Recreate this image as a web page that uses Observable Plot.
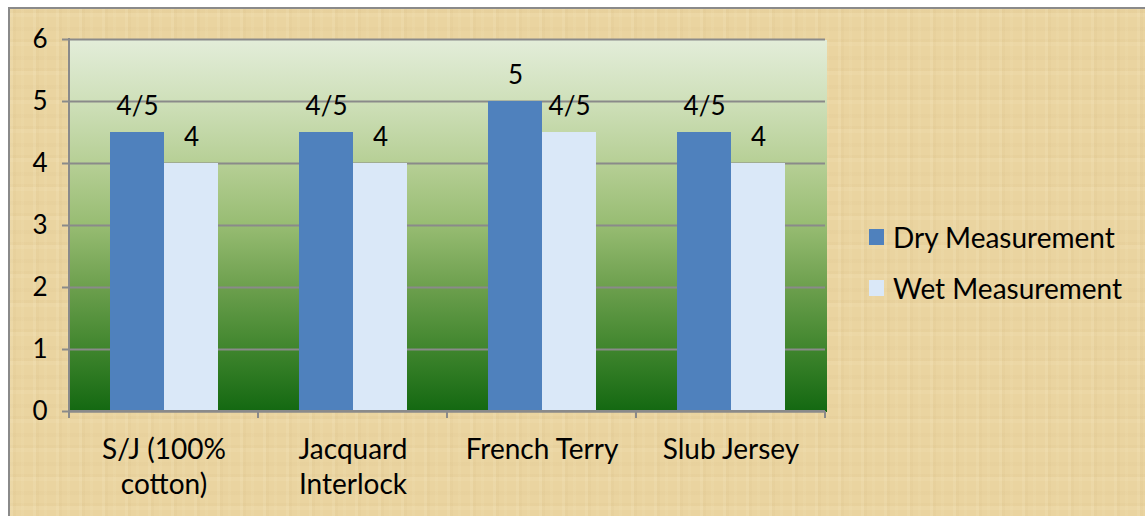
<!DOCTYPE html>
<html>
<head>
<meta charset="utf-8">
<script src="https://cdn.jsdelivr.net/npm/d3@7"></script>
<script src="https://cdn.jsdelivr.net/npm/@observablehq/plot@0.6"></script>
<style>
  body { margin: 0; background: #ffffff; font-family: Lato, "Open Sans", sans-serif; }
  #wrap { position: relative; width: 1145px; height: 516px; overflow: hidden; }
  #paper {
    position: absolute; left: 8px; top: 7px; width: 1160px; height: 530px;
    border-left: 2px solid #8a8a8a; border-top: 2px solid #8a8a8a;
    background:
      repeating-linear-gradient(90deg, rgba(255,250,225,0.10) 0 3px, rgba(150,110,40,0.03) 3px 6px, transparent 6px 11px, rgba(255,245,210,0.07) 11px 14px, transparent 14px 23px),
      repeating-linear-gradient(0deg, rgba(255,245,215,0.09) 0 4px, rgba(160,120,50,0.035) 4px 7px, transparent 7px 15px, rgba(140,100,40,0.025) 15px 19px, transparent 19px 29px),
      #ead4a0;
  }
  #chart { position: absolute; left: 0; top: 0; }
  #legend { position: absolute; left: 869px; top: 218px; font-size: 28px; color: #000; }
  .item { display: flex; align-items: center; height: 38px; margin-bottom: 13px; }
  .sw { width: 15px; height: 16px; margin-right: 9px; }
</style>
</head>
<body>
<div id="wrap">
  <div id="paper"></div>
  <div id="chart"></div>
  <div id="legend"></div>
</div>
<script>
// ---- data ----
const categories = ["S/J (100% cotton)", "Jacquard Interlock", "French Terry", "Slub Jersey"];
const tickLabels = ["S/J (100%\ncotton)", "Jacquard\nInterlock", "French Terry", "Slub Jersey"];
const series = ["Dry Measurement", "Wet Measurement"];
const dryValues = [4.5, 4.5, 5, 4.5];
const wetValues = [4, 4, 4.5, 4];
const dryLabels = ["4/5", "4/5", "5", "4/5"];
const wetLabels = ["4", "4", "4/5", "4"];
const yTicks = [0, 1, 2, 3, 4, 5, 6];
const seriesColors = ["#4f81bd", "#dae8f8"];

const rows = [];
categories.forEach((c, i) => {
  rows.push({category: c, series: series[0], value: dryValues[i], label: dryLabels[i]});
  rows.push({category: c, series: series[1], value: wetValues[i], label: wetLabels[i]});
});

const grid = "#8a8a8a";
const font = "Lato, 'Open Sans', sans-serif";

const chart = Plot.plot({
  width: 1145,
  height: 516,
  marginLeft: 68,
  marginRight: 320,
  marginTop: 39,
  marginBottom: 105,
  style: {background: "transparent", fontFamily: font, color: "#000", overflow: "visible"},
  fx: {domain: categories, padding: 0, label: null, axis: null},
  x: {domain: series, paddingInner: 0, paddingOuter: 0.75, axis: null},
  y: {domain: [0, 6], axis: null},
  color: {domain: series, range: seriesColors},
  marks: [
    Plot.frame({fill: "url(#plotGrad)", stroke: "none", shapeRendering: "crispEdges", insetRight: -1}),
    Plot.gridY(yTicks, {stroke: grid, strokeOpacity: 1, strokeWidth: 2}),
    Plot.barY(rows, {fx: "category", x: "series", y: "value", fill: "series"}),
    Plot.text(rows, {fx: "category", x: "series", y: "value", text: "label", lineAnchor: "bottom", dy: -18, fontSize: 26, fill: "#000"}),
    Plot.axisY(yTicks, {anchor: "left", tickSize: 7, tickPadding: 15, fontSize: 26, stroke: grid, strokeWidth: 2, tickFormat: d => String(d), label: null}),
    Plot.ruleY([0], {stroke: grid, strokeWidth: 2}),
    Plot.axisFx({anchor: "bottom", tickSize: 0, tickPadding: 23, fontSize: 28, lineHeight: 1.25, label: null,
      tickFormat: d => tickLabels[categories.indexOf(d)]})
  ]
});

document.getElementById("chart").appendChild(chart);

// gradient fill for the plot area
const svg = d3.select(chart);
const defs = svg.insert("defs", ":first-child");
const lg = defs.append("linearGradient").attr("id", "plotGrad").attr("x1", 0).attr("y1", 0).attr("x2", 0).attr("y2", 1);
[[0, "#e3edd9"], [0.164, "#cfe0ba"], [0.333, "#b6cf95"], [0.5, "#97bc72"], [0.667, "#6c9f4d"], [0.833, "#3f852d"], [1, "#136811"]]
  .forEach(([o, c]) => lg.append("stop").attr("offset", o).attr("stop-color", c));

// axis line and category boundary ticks, from the plot's own scales
const fx = chart.scale("fx");
const ys = chart.scale("y");
const y0 = ys.apply(0), yTop = ys.apply(6);
const bounds = categories.map(c => fx.apply(c));
bounds.push(fx.apply(categories[categories.length - 1]) + fx.bandwidth);
const g = svg.append("g").attr("stroke", grid).attr("stroke-width", 2);
g.append("line").attr("x1", bounds[0]).attr("x2", bounds[0]).attr("y1", yTop - 1).attr("y2", y0);
g.append("line").attr("x1", bounds[0]).attr("x2", bounds[bounds.length - 1]).attr("y1", y0).attr("y2", y0);
bounds.forEach(b => g.append("line").attr("x1", b).attr("x2", b).attr("y1", y0).attr("y2", y0 + 7));

// legend
const legend = d3.select("#legend");
series.forEach((s, i) => {
  const it = legend.append("div").attr("class", "item");
  it.append("div").attr("class", "sw").style("background", seriesColors[i]);
  it.append("span").text(s);
});
</script>
</body>
</html>
